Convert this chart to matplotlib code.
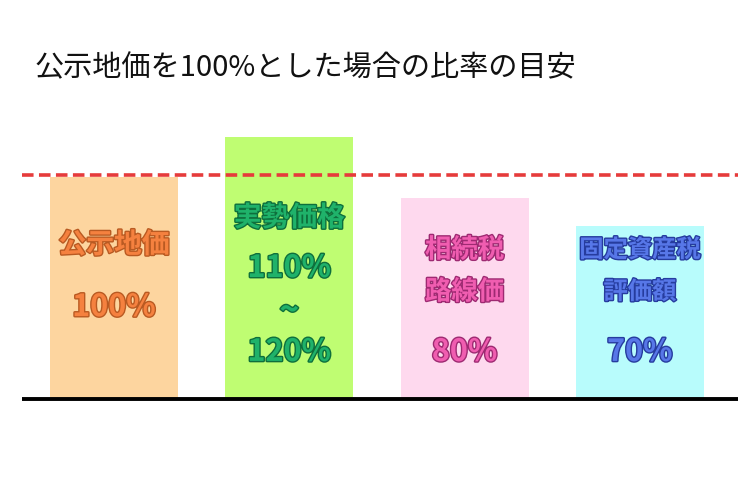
import matplotlib
matplotlib.use("Agg")
import matplotlib.pyplot as plt
import matplotlib.patheffects as pe

plt.rcParams['font.family'] = ['Noto Sans CJK JP', 'DejaVu Sans']

# データ
title = "公示地価を100%とした場合の比率の目安"
bar_heights = [100, 118, 90.5, 78]          # 見た目上の棒の高さ
ref_level = 101                              # 赤い破線（公示地価の基準）
bar_colors = ['#FDD59F', '#BFFD72', '#FED9EE', '#B8FCFC']
text_colors = ['#F5813F', '#1FB26A', '#F05DB0', '#5777E8']
edge_colors = ['#B95A22', '#0E6F3C', '#9E2A72', '#263C9E']

# 各棒の中の文字 (文字列, 高さ, 文字サイズ)
labels = [
    [("公示地価", 69.4, 20), ("100%", 41.4, 22)],
    [("実勢価格", 81.5, 20), ("110%", 59.0, 22), ("~", 39.5, 24), ("120%", 21.2, 22)],
    [("相続税", 67.1, 19), ("路線価", 48.2, 19), ("80%", 21.2, 22)],
    [("固定資産税", 67.1, 17.5), ("評価額", 48.2, 17.5), ("70%", 21.2, 22)],
]

fig = plt.figure(figsize=(7.5, 5), dpi=100)
ax = fig.add_axes([22 / 750, 101 / 500, 716 / 750, 277.5 / 500])

x = range(len(bar_heights))
ax.bar(x, bar_heights, width=0.73, color=bar_colors, zorder=1)

ax.axhline(ref_level, color='#E63B3B', lw=2.6, linestyle=(0, (3.2, 1.5)), zorder=3)
ax.axhline(0, color='black', lw=2.8, zorder=3, solid_capstyle='butt', clip_on=False)

for i, items in enumerate(labels):
    for s, yv, fs in items:
        ax.text(i, yv, s, ha='center', va='center', fontsize=fs, fontweight='bold',
                color=text_colors[i], zorder=4,
                path_effects=[pe.withStroke(linewidth=2.0, foreground=edge_colors[i])])

ax.set_xlim(-0.525, 3.56)
ax.set_ylim(0, 125)
ax.axis('off')

fig.text(35 / 750, 1 - 68 / 500, title, fontsize=21, va='center', ha='left', color='#111111')

fig.savefig('out.png', dpi=100)
